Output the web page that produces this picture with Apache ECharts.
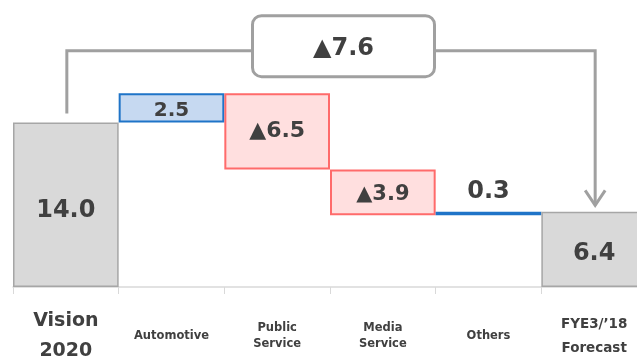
<!DOCTYPE html>
<html>
<head>
<meta charset="utf-8">
<script src="https://cdn.jsdelivr.net/npm/echarts@6/dist/echarts.min.js"></script>
<style>
html,body{margin:0;padding:0;background:#fff;overflow:hidden;}
#chart{width:637px;height:358px;}
</style>
</head>
<body>
<div id="chart"></div>
<script>
// ---- data ----
const categories = ['Vision\n2020', 'Automotive', 'Public\nService', 'Media\nService', 'Others', 'FYE3/\u201918\nForecast'];
const startTotal = 14.0;
const changes = [2.5, -6.5, -3.9, 0.3];
const endTotal = 6.4;
const totalChangeLabel = '\u25B27.6';

// ---- derived waterfall table ----
const fmt = v => (v < 0 ? '\u25B2' : '') + Math.abs(v).toFixed(1);
const base = [0];
const height = [startTotal];
const kind = ['total'];
let run = startTotal;
changes.forEach(c => {
  const next = Math.round((run + c) * 10) / 10;
  base.push(Math.min(run, next));
  height.push(Math.abs(c));
  kind.push(c >= 0 ? 'up' : 'down');
  run = next;
});
base.push(0); height.push(endTotal); kind.push('total');
const labels = [fmt(startTotal)].concat(changes.map(fmt)).concat([fmt(endTotal)]);

// ---- styles ----
const FONT = 'DejaVu Sans';
const TXT = '#404040';
const styleByKind = {
  total: {color: '#d9d9d9', borderColor: '#a6a6a6', borderWidth: 1.5},
  up:    {color: '#c6d9f1', borderColor: '#1f74c8', borderWidth: 2},
  down:  {color: '#ffdfdf', borderColor: '#ff6b6b', borderWidth: 2}
};
const labelSize = [24, 20, 22, 21, 24, 24];
const labelShiftY = [6, 3, 0, 2.5, 0, 4];
const catStyle = [
  {fontSize: 19, lineHeight: 30},
  {fontSize: 11.5, lineHeight: 16},
  {fontSize: 11.5, lineHeight: 16},
  {fontSize: 11.5, lineHeight: 16},
  {fontSize: 11.5, lineHeight: 16},
  {fontSize: 13.5, lineHeight: 24}
];

const chart = echarts.init(document.getElementById('chart'), null, {renderer: 'canvas'});

const option = {
  animation: false,
  backgroundColor: '#ffffff',
  grid: {left: 13, top: 5, width: 634, height: 282, containLabel: false, outerBoundsMode: 'none'},
  xAxis: {
    type: 'category',
    data: categories.map((c, i) => ({
      value: c,
      textStyle: Object.assign({fontFamily: FONT, fontWeight: 'bold', color: TXT, verticalAlign: 'middle'}, catStyle[i])
    })),
    boundaryGap: true,
    axisLine: {show: true, lineStyle: {color: '#d9d9d9', width: 1.5}},
    axisTick: {show: true, length: 7, lineStyle: {color: '#d9d9d9', width: 1}},
    axisLabel: {margin: 49, interval: 0, hideOverlap: false, verticalAlign: 'middle', fontFamily: FONT, fontWeight: 'bold', color: TXT}
  },
  yAxis: {type: 'value', min: 0, max: 24, show: false, splitLine: {show: false}},
  series: [
    {
      name: 'base', type: 'bar', stack: 'w', silent: true,
      barCategoryGap: 0, barGap: 0,
      itemStyle: {color: 'rgba(0,0,0,0)'},
      data: base
    },
    {
      name: 'value', type: 'bar', stack: 'w',
      barCategoryGap: 0, barGap: 0,
      data: height.map((h, i) => ({
        value: h,
        itemStyle: styleByKind[kind[i]],
        label: {
          show: true,
          position: h < 1 ? 'top' : 'inside',
          distance: 8,
          offset: [0, labelShiftY[i]],
          formatter: labels[i],
          fontFamily: FONT, fontWeight: 'bold', color: TXT,
          fontSize: labelSize[i]
        }
      }))
    }
  ]
};
chart.setOption(option);

// ---- total-change bracket (positioned from the axes) ----
function drawBracket() {
  const p = (ci, v) => chart.convertToPixel({xAxisIndex: 0, yAxisIndex: 0}, [ci, v]);
  const n = categories.length;
  const leftBar = p(0, startTotal);
  const rightBar = p(n - 1, endTotal);
  const peak = p(1, startTotal + changes[0]);
  const topY = peak[1] - 42.5;
  const x0 = leftBar[0] + 1, x1 = rightBar[0] + 1;
  const y0 = leftBar[1] - 9;
  const tipY = rightBar[1] - 6.5;
  const boxW = 182, boxH = 61;
  const bx = (x0 + x1) / 2 + 12.5;
  const stroke = '#a0a0a0';
  chart.setOption({
    graphic: [
      {type: 'polyline', z: 10, shape: {points: [[x0, y0], [x0, topY], [x1, topY], [x1, tipY]]},
       style: {stroke: stroke, lineWidth: 3, fill: null, lineJoin: 'miter'}},
      {type: 'polyline', z: 10, shape: {points: [[x1 - 10, tipY - 15], [x1, tipY], [x1 + 10, tipY - 15]]},
       style: {stroke: stroke, lineWidth: 3, fill: null, lineJoin: 'miter'}},
      {type: 'rect', z: 11, shape: {x: bx - boxW / 2, y: topY - 35, width: boxW, height: boxH, r: 9},
       style: {fill: '#ffffff', stroke: stroke, lineWidth: 3}},
      {type: 'text', z: 12, x: bx, y: topY - 2,
       style: {text: totalChangeLabel, fontFamily: FONT, fontWeight: 'bold', fontSize: 24, fill: TXT,
               align: 'center', verticalAlign: 'middle'}}
    ]
  });
}
drawBracket();
</script>
</body>
</html>
